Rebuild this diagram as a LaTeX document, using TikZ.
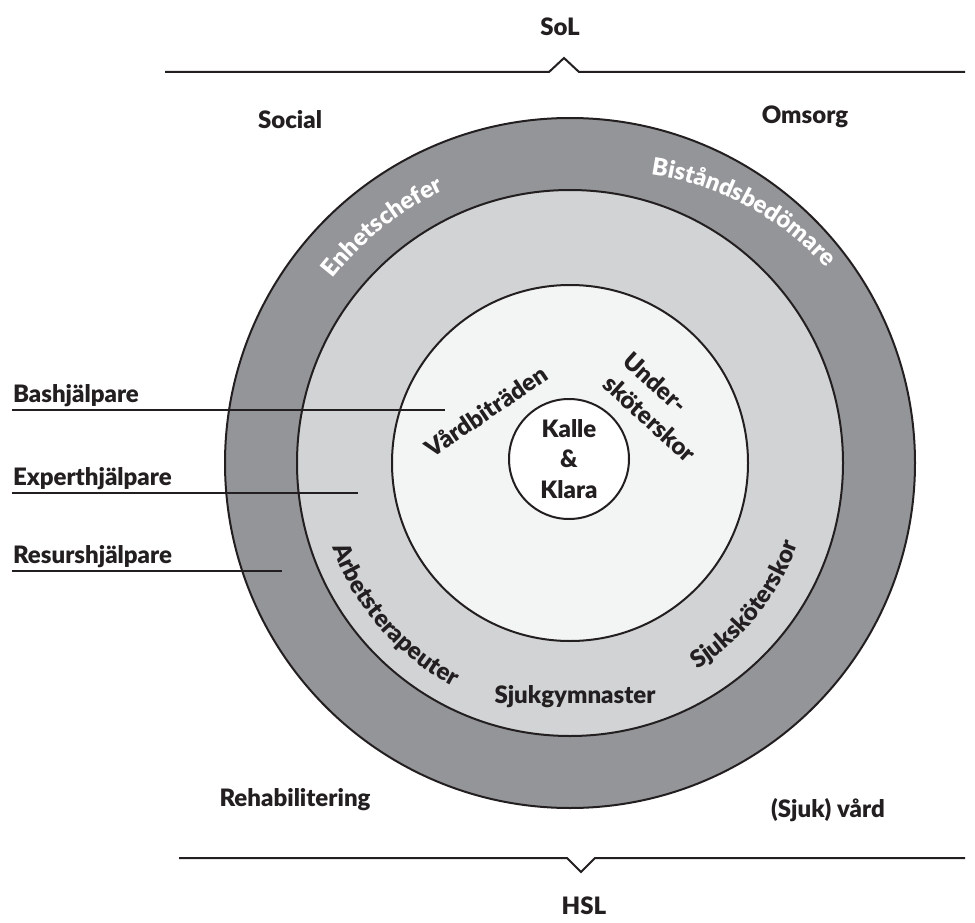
\documentclass[tikz,border=0pt]{standalone}
\usepackage{fontspec}
\setmainfont{Lato}[BoldFont={Lato Black}]
\usetikzlibrary{decorations.text}
\definecolor{ringD}{HTML}{939598}
\definecolor{ringL}{HTML}{D1D3D4}
\definecolor{ringW}{HTML}{F3F4F4}
\definecolor{ink}{HTML}{231F20}
\newcommand\lbl{\bfseries\fontsize{24}{30.5}\selectfont}
\begin{document}
\begin{tikzpicture}[x=1pt,y=1pt,font=\lbl,text=ink,draw=ink,line width=2pt,
  arctext/.style={decorate,decoration={text along path,text align=center,text color=#1}}]
\useasboundingbox (0,0) rectangle (975,-923);
\coordinate (c) at (570,-463);
% rings
\foreach \r/\col in {345/ringD,273/ringL,178/ringW}{\draw[fill=\col](c) circle (\r);}
\node[circle,draw,fill=white,minimum size=120pt,inner sep=0pt,align=center] (kalle) at (569,-459) {Kalle\\\&\\Klara};
% SoL / HSL
\node (sol) at (560,-27) {SoL};
\draw (165,-72)--(549,-72)--(564,-58)--(579,-72)--(965,-72);
\node (hsl) at (584,-906) {HSL};
\draw (179,-858)--(567,-858)--(581,-872)--(595,-858)--(965,-858);
\node (social) at (290,-120) {Social};
\node (omsorg) at (805,-117) {Omsorg};
\node (rehab) at (295,-800) {Rehabilitering};
\node (vard) at (828,-810) {(Sjuk) vård};
% roles
\path[shift={(c)},arctext=white,decoration={text={|\lbl|Enhetschefer}}] (168.5:300) arc[start angle=168.5,end angle=88.5,radius=300];
\path[shift={(610,-463)},arctext=white,decoration={text={|\lbl|Biståndsbedömare}}] (102:291) arc[start angle=102,end angle=22,radius=291];
\path[shift={(c)},arctext=ink,decoration={text={|\lbl|Arbetsterapeuter}}] (181:252) arc[start angle=181,end angle=261,radius=252];
\path[shift={(c)},arctext=ink,decoration={text={|\lbl|Sjuksköterskor}}] (-79:242) arc[start angle=-79,end angle=1,radius=242];
\node (gymn) at (575,-697) {Sjukgymnaster};
\node[rotate=34] (vardb) at (486,-411) {Vårdbiträden};
\node[rotate=-42,align=left] (usk) at (660,-407) {Under-\\sköterskor};
% helpers
\foreach \name/\y/\xe in {Bashjälpare/410/445,Experthjälpare/493/358,Resurshjälpare/571/282}{
  \node[anchor=base west,inner sep=0pt] (lbl\y) at (12,-\y+7.5) {\name};
  \coordinate (end\y) at (\xe,-\y);
  \draw[line width=2.3pt] ([yshift=-7.5pt]lbl\y.base west)--(end\y);}
\end{tikzpicture}
\end{document}
